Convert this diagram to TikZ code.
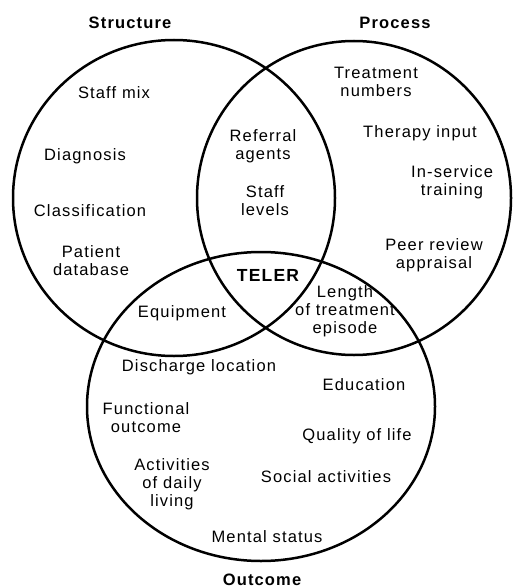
\documentclass[tikz,border=0pt]{standalone}
\usepackage{fontspec}
\setmainfont{Liberation Sans}[LetterSpace=7]
\begin{document}
\begin{tikzpicture}[x=1pt, y=-1pt, line width=2.5pt,
    item/.style={font=\fontsize{16.5}{18}\selectfont, align=center, inner sep=0pt},
    title/.style={item, font=\fontsize{16.5}{18}\selectfont\bfseries},
    core/.style={font=\fontsize{17.5}{20}\selectfont\bfseries, inner sep=0pt}]
  \useasboundingbox (0,0) rectangle (512,588);

  % Circles
  \draw (174,198) ellipse [x radius=161pt, y radius=158pt];
  \draw (354,198) circle [radius=157pt];
  \draw (261,406.5) ellipse [x radius=174pt, y radius=154.5pt];

  % Titles
  \node[title] (structure) at (130,22.5) {Structure};
  \node[title] (process) at (395,22.5) {Process};
  \node[title] (outcome) at (262,580) {Outcome};

  % Structure
  \node[item] (staffmix) at (114,93) {Staff mix};
  \node[item] (diagnosis) at (85,156.5) {Diagnosis};
  \node[item] (classif) at (90,210.5) {Classification};
  \node[item] (patientdb) at (91,261) {Patient\\database};

  % Process
  \node[item] (treatnum) at (376,82) {Treatment\\numbers};
  \node[item] (therapy) at (420,133.5) {Therapy input};
  \node[item] (inservice) at (452,182) {In-service\\training};
  \node[item] (peer) at (434,255) {Peer review\\appraisal};

  % Structure and process
  \node[item] (referral) at (263,146) {Referral\\agents};
  \node[item] (stafflev) at (265,201) {Staff\\levels};

  % Middle
  \node[core] (teler) at (268,275) {TELER};
  \node[item] (equip) at (182,313.5) {Equipment};
  \node[item] (length) at (345,311) {Length\\of treatment\\episode};

  % Outcome
  \node[item] (discharge) at (199,367.5) {Discharge location};
  \node[item] (education) at (364,385) {Education};
  \node[item] (functional) at (146,418) {Functional\\outcome};
  \node[item] (quality) at (357,436) {Quality of life};
  \node[item] (adl) at (172,484) {Activities\\of daily\\living};
  \node[item] (social) at (326,477) {Social activities};
  \node[item] (mental) at (267,536.5) {Mental status};
\end{tikzpicture}
\end{document}
